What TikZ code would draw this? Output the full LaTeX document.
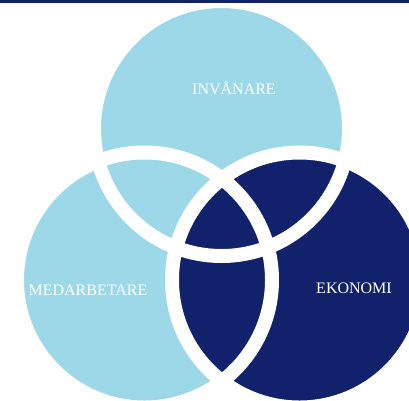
\documentclass[tikz,border=0pt]{standalone}
\usepackage{fontspec}
\setmainfont{Liberation Serif}
\definecolor{paleblue}{RGB}{157,216,232}
\definecolor{navyblue}{RGB}{18,33,108}

\begin{document}
\begin{tikzpicture}[
            x=1pt, y=-1pt,
            disc/.style={circle, minimum size=255pt, inner sep=0pt},
            ring/.style={draw=white, line width=14pt},
            areatext/.style={text=white, inner sep=0pt, font=\fontsize{16}{18}\selectfont}
        ]
            \clip (0,0) rectangle (409,400);
            % Circles
            \node[disc, fill=paleblue] (invanare) at (221.5,128.5) {};
            \node[disc, fill=paleblue] (medarbetare) at (144.5,280) {};
            \node[disc, fill=navyblue] (ekonomi) at (299.5,280) {};
            
            % Outlines
            \foreach \c in {invanare, medarbetare, ekonomi}
                \draw[ring] (\c.center) circle[radius=127.5pt];
            
            % Labels
            \node[areatext] (invtext) at (234,88) {INVÅNARE};
            \node[areatext] (medtext) at (88,290) {MEDARBETARE};
            \node[areatext] (ekotext) at (354,288) {EKONOMI};
            
            % Top rule
            \fill[navyblue] (0,0) rectangle (409,2.5);
        \end{tikzpicture}
\end{document}
